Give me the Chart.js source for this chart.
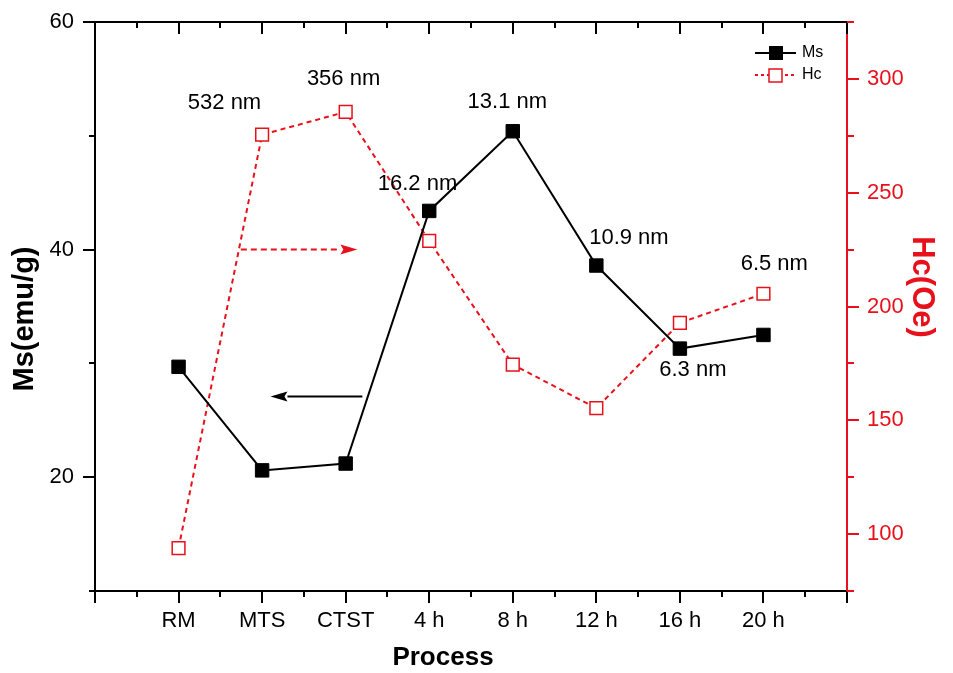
<!DOCTYPE html>
<html>
<head>
<meta charset="utf-8">
<script src="https://cdn.jsdelivr.net/npm/chart.js@4.4.1/dist/chart.umd.min.js"></script>
<style>
  html, body { margin: 0; padding: 0; background: #fff; }
  #wrap { width: 953px; height: 673px; }
</style>
</head>
<body>
<div id="wrap"><canvas id="chart" width="953" height="673"></canvas></div>
<script>
// process steps along the x axis
const categories = ['RM', 'MTS', 'CTST', '4 h', '8 h', '12 h', '16 h', '20 h'];
// saturation magnetisation, emu/g (left axis)
const msValues = [29.7, 20.6, 21.2, 43.4, 50.4, 38.6, 31.3, 32.5];
// coercivity, Oe (right axis)
const hcValues = [93.8, 275.5, 285.5, 228.8, 174.5, 155.3, 192.8, 205.6];
const msTicks = [20, 40, 60];
const hcTicks = [100, 150, 200, 250, 300];

// crystallite size notes, anchored in (x index, Ms value) units
const sizeNotes = [
  { text: '532 nm', x: 0.55, y: 52.9 },
  { text: '356 nm', x: 1.975, y: 55.0 },
  { text: '16.2 nm', x: 2.86, y: 45.8 },
  { text: '13.1 nm', x: 3.935, y: 53.0 },
  { text: '10.9 nm', x: 5.39, y: 41.0 },
  { text: '6.3 nm', x: 6.155, y: 29.45 },
  { text: '6.5 nm', x: 7.13, y: 38.7 },
];

const FONT = '"Liberation Sans", Arial, Helvetica, sans-serif';
const RED = '#e8101a';

const msData = msValues.map((v, i) => ({ x: i, y: v }));
const hcData = hcValues.map((v, i) => ({ x: i, y: v }));

// keep the plot box fixed: no extra room for overhanging tick labels
const noOverhang = s => {
  s.paddingTop = 0; s.paddingBottom = 0;
  s.paddingLeft = 0; s.paddingRight = 0;
};

const decorations = {
  id: 'decorations',
  afterDatasetsDraw(chart) {
    const { ctx, chartArea: a, scales: { x, y } } = chart;
    ctx.save();

    // size labels
    ctx.fillStyle = '#000';
    ctx.font = '22px ' + FONT;
    ctx.textAlign = 'center';
    ctx.textBaseline = 'middle';
    sizeNotes.forEach(n => {
      ctx.fillText(n.text, x.getPixelForValue(n.x), y.getPixelForValue(n.y));
    });

    // arrows pointing to the axis each series belongs to
    const arrow = (x0, x1, yv, color, dash) => {
      const py = y.getPixelForValue(yv);
      const px0 = x.getPixelForValue(x0);
      const px1 = x.getPixelForValue(x1);
      const dir = Math.sign(px1 - px0);
      const head = 17;
      ctx.strokeStyle = color;
      ctx.fillStyle = color;
      ctx.lineWidth = 2;
      ctx.setLineDash(dash);
      ctx.beginPath();
      ctx.moveTo(px0, py);
      ctx.lineTo(px1 - dir * head, py);
      ctx.stroke();
      ctx.setLineDash([]);
      ctx.beginPath();
      ctx.moveTo(px1, py);
      ctx.lineTo(px1 - dir * head, py - 5);
      ctx.lineTo(px1 - dir * (head - 3), py);
      ctx.lineTo(px1 - dir * head, py + 5);
      ctx.closePath();
      ctx.fill();
    };
    arrow(0.745, 2.14, 40, RED, [6, 4]);
    arrow(2.2, 1.1, 27.1, '#000', []);

    // legend, top right inside the plot
    const lx = a.right - 92;
    ctx.font = '16px ' + FONT;
    ctx.textAlign = 'left';
    ctx.lineWidth = 2;
    ctx.strokeStyle = '#000';
    ctx.beginPath(); ctx.moveTo(lx, a.top + 31); ctx.lineTo(lx + 41, a.top + 31); ctx.stroke();
    ctx.fillStyle = '#000';
    ctx.fillRect(lx + 14, a.top + 24, 14, 14);
    ctx.fillText('Ms', lx + 47, a.top + 31);
    ctx.strokeStyle = RED;
    ctx.setLineDash([3, 3]);
    ctx.beginPath(); ctx.moveTo(lx, a.top + 53); ctx.lineTo(lx + 41, a.top + 53); ctx.stroke();
    ctx.setLineDash([]);
    ctx.fillStyle = '#fff';
    ctx.lineWidth = 1.5;
    ctx.fillRect(lx + 14, a.top + 47, 13, 13);
    ctx.strokeRect(lx + 14, a.top + 47, 13, 13);
    ctx.fillStyle = '#000';
    ctx.fillText('Hc', lx + 47, a.top + 53);
    ctx.restore();
  },
  afterDraw(chart) {
    const { ctx, chartArea: a, scales: { x, y, y2 } } = chart;
    ctx.save();
    ctx.lineWidth = 2;
    ctx.strokeStyle = '#000';
    const seg = (x0, y0, x1, y1) => {
      ctx.beginPath(); ctx.moveTo(x0, y0); ctx.lineTo(x1, y1); ctx.stroke();
    };
    // top frame line
    seg(a.left - 1, a.top, a.right, a.top);

    // x ticks: outward at bottom, inward at top
    for (let v = x.min; v <= x.max; v += 0.5) {
      const px = Math.round(x.getPixelForValue(v));
      const len = Number.isInteger(v) ? 12 : 6;
      seg(px, a.bottom, px, a.bottom + len);
      seg(px, a.top, px, a.top + len);
    }
    // left ticks
    for (let v = y.min; v <= y.max; v += 10) {
      const py = Math.round(y.getPixelForValue(v));
      const len = msTicks.includes(v) ? 12 : 6;
      seg(a.left - len, py, a.left, py);
    }
    // right ticks
    ctx.strokeStyle = RED;
    for (let v = y2.min; v <= y2.max; v += 25) {
      const py = Math.round(y2.getPixelForValue(v));
      const len = hcTicks.includes(v) ? 12 : 7;
      seg(a.right, py, a.right + len, py);
    }

    // axis titles
    ctx.textAlign = 'center';
    ctx.textBaseline = 'middle';
    ctx.fillStyle = '#000';
    ctx.font = 'bold 26px ' + FONT;
    ctx.fillText('Process', 443, 658);
    ctx.font = 'bold 29px ' + FONT;
    ctx.save();
    ctx.translate(25, 319);
    ctx.rotate(-Math.PI / 2);
    ctx.fillText('Ms(emu/g)', 0, 0);
    ctx.restore();
    ctx.font = 'bold 31px ' + FONT;
    ctx.fillStyle = RED;
    ctx.save();
    ctx.translate(922, 287);
    ctx.rotate(Math.PI / 2);
    ctx.fillText('Hc(Oe)', 0, 0);
    ctx.restore();
    ctx.restore();
  }
};

new Chart(document.getElementById('chart'), {
  type: 'line',
  data: {
    datasets: [
      {
        label: 'Ms',
        data: msData,
        yAxisID: 'y',
        borderColor: '#000',
        backgroundColor: '#000',
        borderWidth: 2,
        pointStyle: 'rect',
        pointRadius: 9.5,
        pointBorderWidth: 1,
        pointBackgroundColor: '#000',
        pointBorderColor: '#000',
        tension: 0,
      },
      {
        label: 'Hc',
        data: hcData,
        yAxisID: 'y2',
        borderColor: RED,
        backgroundColor: RED,
        borderWidth: 2,
        borderDash: [5, 4],
        pointStyle: 'rect',
        pointRadius: 9,
        pointBorderWidth: 1.5,
        pointBackgroundColor: '#fff',
        pointBorderColor: RED,
        tension: 0,
      },
    ],
  },
  options: {
    responsive: false,
    animation: false,
    devicePixelRatio: 1,
    layout: { padding: { top: 22, left: 0, right: 0, bottom: 0 } },
    plugins: {
      legend: { display: false },
      tooltip: { enabled: false },
    },
    scales: {
      x: {
        type: 'linear',
        position: 'bottom',
        min: -1,
        max: 8,
        afterFit: s => { s.height = 82; noOverhang(s); },
        grid: { display: false, drawTicks: false },
        border: { display: true, color: '#000', width: 2 },
        ticks: {
          stepSize: 1,
          autoSkip: false,
          maxRotation: 0,
          padding: 17,
          color: '#000',
          font: { family: FONT, size: 22 },
          callback: v => categories[v] ?? '',
        },
      },
      y: {
        type: 'linear',
        position: 'left',
        min: 10,
        max: 60,
        afterFit: s => { s.width = 95; noOverhang(s); },
        grid: { display: false, drawTicks: false },
        border: { display: true, color: '#000', width: 2 },
        ticks: {
          stepSize: 10,
          padding: 21,
          color: '#000',
          font: { family: FONT, size: 22 },
          callback: v => msTicks.includes(v) ? v : '',
        },
      },
      y2: {
        type: 'linear',
        position: 'right',
        min: 75,
        max: 325,
        afterFit: s => { s.width = 106; noOverhang(s); },
        grid: { display: false, drawTicks: false },
        border: { display: true, color: RED, width: 2 },
        ticks: {
          stepSize: 25,
          padding: 20,
          color: RED,
          font: { family: FONT, size: 22 },
          callback: v => hcTicks.includes(v) ? v : '',
        },
      },
    },
  },
  plugins: [decorations],
});
</script>
</body>
</html>
